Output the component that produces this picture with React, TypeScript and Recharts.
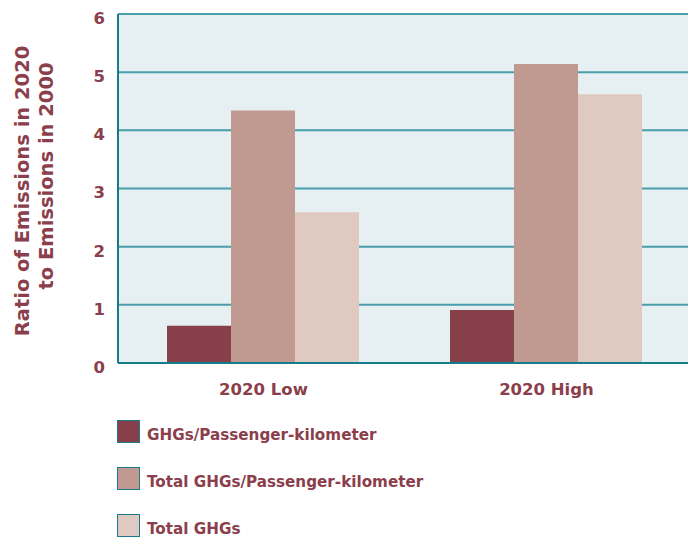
import { BarChart, Bar, XAxis, YAxis, CartesianGrid } from "recharts";

const categories = ["2020 Low", "2020 High"];
const ghgsPerPkm = [0.64, 0.91];
const totalGhgsPerPkm = [4.34, 5.14];
const totalGhgs = [2.59, 4.62];
const yTicks = [0, 1, 2, 3, 4, 5, 6];

const SERIES = [
  { key: "ghgsPerPkm", name: "GHGs/Passenger-kilometer", color: "#873f4a" },
  { key: "totalGhgsPerPkm", name: "Total GHGs/Passenger-kilometer", color: "#c09a90" },
  { key: "totalGhgs", name: "Total GHGs", color: "#dfc9c0" },
];

const data = categories.map((name, i) => ({
  name,
  ghgsPerPkm: ghgsPerPkm[i],
  totalGhgsPerPkm: totalGhgsPerPkm[i],
  totalGhgs: totalGhgs[i],
}));

const TEXT = "#8b3e4b";
const FONT = "'DejaVu Sans', sans-serif";

const YLabel = () => (
  <g fontFamily={FONT} fontWeight={700} fontSize={19.5} fill={TEXT}>
    <text x={22} y={191} transform="rotate(-90 22 191)" textAnchor="middle" dominantBaseline="central">
      Ratio of Emissions in 2020
    </text>
    <text x={46} y={176} transform="rotate(-90 46 176)" textAnchor="middle" dominantBaseline="central">
      to Emissions in 2000
    </text>
  </g>
);

export default function App() {
  return (
    <div style={{ position: "absolute", left: 0, top: 0, width: 688, height: 537 }}>
      <BarChart
        width={688}
        height={537}
        data={data}
        margin={{ top: 14, right: 0, bottom: 144, left: 0 }}
        barCategoryGap={45}
        barGap={0}
      >
        <CartesianGrid
          vertical={false}
          stroke="#4a9dab"
          strokeWidth={2}
          fill="#e6eff1"
          strokeOpacity={1}
        />
        <XAxis
          dataKey="name"
          height={30}
          padding={{ left: 4, right: 0 }}
          axisLine={{ stroke: "#157c8c", strokeWidth: 2 }}
          tickLine={false}
          tickMargin={14}
          tick={{ fill: TEXT, fontWeight: 700, fontSize: 16.5, fontFamily: FONT }}
        />
        <YAxis
          width={118}
          domain={[0, 6]}
          ticks={yTicks}
          interval={0}
          axisLine={{ stroke: "#157c8c", strokeWidth: 2 }}
          tickLine={false}
          tickSize={0}
          tickMargin={13}
          tick={{ fill: TEXT, fontWeight: 700, fontSize: 16.5, fontFamily: FONT, dy: 4 }}
          label={{ content: () => <YLabel /> }}
        />
        {SERIES.map((s) => (
          <Bar key={s.key} dataKey={s.key} name={s.name} fill={s.color} isAnimationActive={false} />
        ))}
      </BarChart>
      <div style={{ position: "absolute", left: 117, top: 408, fontFamily: FONT }}>
        {SERIES.map((s) => (
          <div key={s.key} style={{ display: "flex", alignItems: "center", height: 47 }}>
            <div
              style={{
                width: 21,
                height: 21,
                background: s.color,
                border: "1.5px solid #1a7a8a",
                marginRight: 7,
              }}
            />
            <span
              style={{
                color: TEXT,
                fontWeight: 700,
                fontSize: 15.2,
                lineHeight: 1,
                position: "relative",
                top: 4,
              }}
            >
              {s.name}
            </span>
          </div>
        ))}
      </div>
    </div>
  );
}
